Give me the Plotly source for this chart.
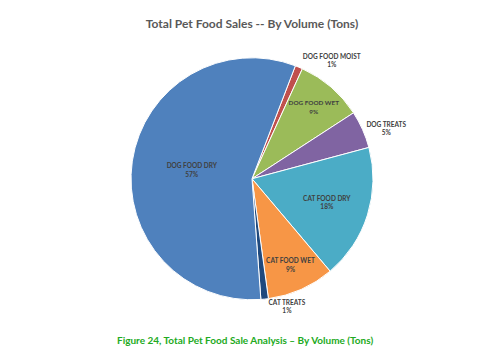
import plotly.graph_objects as go

labels = ["DOG FOOD MOIST", "DOG FOOD WET", "DOG TREATS", "CAT FOOD DRY",
          "CAT FOOD WET", "CAT TREATS", "DOG FOOD DRY"]
values = [1, 9, 5, 18, 9, 1, 57]
colors = ["#C0504D", "#9BBB59", "#8064A2", "#4BACC6", "#F79646", "#1F497D", "#4F81BD"]
positions = ["outside", "inside", "outside", "inside", "inside", "outside", "inside"]

fig = go.Figure(go.Pie(
    labels=labels, values=values, sort=False, direction="clockwise", rotation=21,
    marker=dict(colors=colors, line=dict(color="white", width=1)),
    textposition=positions,
    texttemplate="%{label}<br>%{percent:.0%}",
    insidetextorientation="horizontal",
    textfont=dict(family="Lato", size=6.5, color="#404040", weight="bold"),
    showlegend=False, hoverinfo="label+percent", automargin=False,
    domain=dict(x=[0, 0.978], y=[0.185, 0.861]),
))

fig.update_layout(
    width=499, height=358, margin=dict(l=0, r=0, t=0, b=0, autoexpand=False),
    paper_bgcolor="white", plot_bgcolor="white",
    title=dict(text="<b>Total Pet Food Sales -- By Volume (Tons)</b>",
               x=0.489, xanchor="center", y=0.955, yanchor="middle",
               font=dict(family="Lato", size=12, color="#595959")),
    annotations=[dict(text="<b>Figure 24, Total Pet Food Sale Analysis \u2013 By Volume (Tons)</b>",
                      x=0.475, y=0.073, xref="paper", yref="paper",
                      showarrow=False, xanchor="center", yanchor="middle",
                      font=dict(family="Lato", size=10, color="#22AA22"))],
)

fig.write_html("out.html")
